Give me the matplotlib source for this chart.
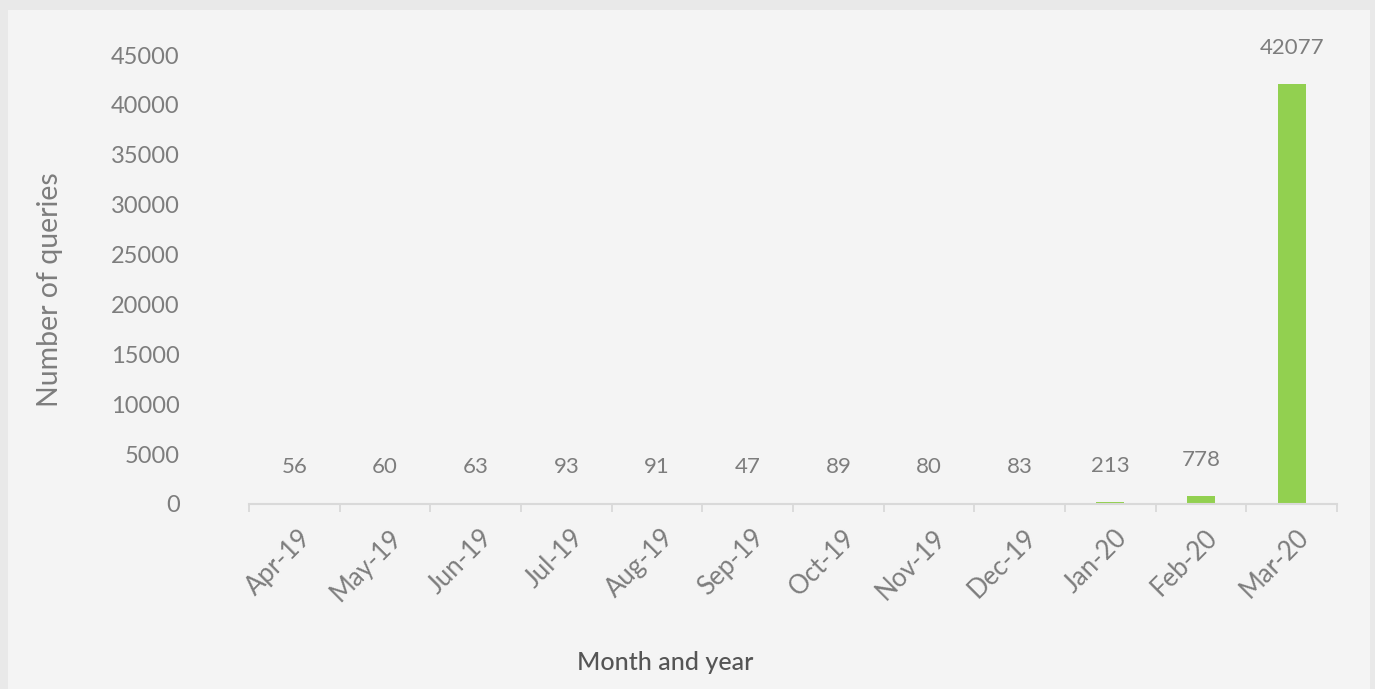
import numpy as np
import matplotlib.pyplot as plt
import matplotlib.transforms as mtransforms
from matplotlib.patches import Rectangle

months = ["Apr-19", "May-19", "Jun-19", "Jul-19", "Aug-19", "Sep-19",
          "Oct-19", "Nov-19", "Dec-19", "Jan-20", "Feb-20", "Mar-20"]
queries = [56, 60, 63, 93, 91, 47, 89, 80, 83, 213, 778, 42077]
yticks = [0, 5000, 10000, 15000, 20000, 25000, 30000, 35000, 40000, 45000]

plt.rcParams['font.family'] = ['Lato', 'DejaVu Sans']
txt = '#7d7d7d'

fig = plt.figure(figsize=(13.75, 6.89), dpi=100, facecolor='#e9e9e9')
# inner panel
fig.patches.append(Rectangle((8/1375, 0), 1 - 13/1375, 1 - 10/689,
                             transform=fig.transFigure, facecolor='#f4f4f4',
                             edgecolor='none', zorder=-10))

ax = fig.add_axes([249/1375, 1 - 504/689, (1337 - 249)/1375, (504 - 55)/689])
ax.set_facecolor('none')

x = np.arange(len(months))
bars = ax.bar(x, queries, width=0.31, color='#92d050')

for xi, v in zip(x, queries):
    ax.annotate(str(v), (xi, v), xytext=(0, 26), textcoords='offset points',
                ha='center', va='center', fontsize=16, color=txt,
                annotation_clip=False)

ax.set_xlim(-0.5, len(months) - 0.5)
ax.set_ylim(0, 45000)
ax.set_yticks(yticks)
ax.set_yticklabels([str(t) for t in yticks], fontsize=17, color=txt)
ax.tick_params(axis='y', length=0, pad=50)

ax.set_xticks(x)
ax.set_xticklabels(months, rotation=45, ha='right', rotation_mode='anchor',
                   fontsize=18.5, color=txt)
ax.tick_params(axis='x', which='major', length=0, pad=15)
shift = mtransforms.ScaledTranslation(4/100, 0, fig.dpi_scale_trans)
for lab in ax.get_xticklabels():
    lab.set_transform(lab.get_transform() + shift)
ax.set_xticks(np.arange(-0.5, len(months)), minor=True)
ax.tick_params(axis='x', which='minor', length=6, width=1.3, color='#d9d9d9')

for s in ['top', 'right', 'left']:
    ax.spines[s].set_visible(False)
ax.spines['bottom'].set_color('#d9d9d9')
ax.spines['bottom'].set_linewidth(1.5)

fig.text(665/1375, 1 - 662/689, "Month and year", ha='center', va='center',
         fontsize=18, color='#555555', fontweight='medium')
fig.text(50/1375, 1 - 290/689, "Number of queries", ha='center', va='center',
         rotation=90, fontsize=20.5, color=txt)

fig.savefig("out.png", dpi=100, facecolor=fig.get_facecolor())
